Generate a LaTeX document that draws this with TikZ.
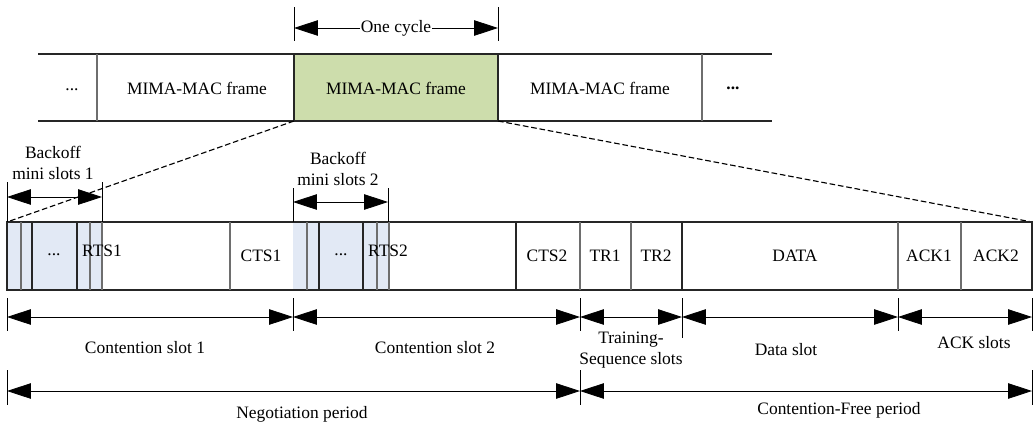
\documentclass[tikz,border=0pt]{standalone}
\usepackage{fontspec}
\setmainfont{Liberation Serif}
\usetikzlibrary{arrows.meta}

\definecolor{framegreen}{RGB}{205,221,172}
\definecolor{miniblue}{RGB}{226,233,245}
\definecolor{divgray}{RGB}{110,110,110}

\tikzset{
  rowline/.style={line width=0.9pt,black!85},
  divline/.style={line width=0.9pt,divgray},
  tickline/.style={line width=0.6pt},
  dimarrow/.style={line width=0.6pt,{Triangle[length=17pt,width=11pt]}-{Triangle[length=17pt,width=11pt]}},
  zoomline/.style={line width=0.8pt,dash pattern=on 4pt off 2pt},
  lbl/.style={inner sep=1pt,font=\fontsize{12.4}{14.5}\selectfont,align=center}
}

\begin{document}
\begin{tikzpicture}[x=0.025cm,y=-0.025cm]
\useasboundingbox (0,0) rectangle (1035,424);

% Upper row of frames
\fill [framegreen] (294,54) rectangle (498,121);
\draw [rowline] (38,54) -- (772,54);
\draw [rowline] (38,121) -- (772,121);
\foreach \xx in {97,702}
  \draw [divline] (\xx,54) -- (\xx,121);
\foreach \xx in {294,498}
  \draw [rowline] (\xx,54) -- (\xx,121);
\node [lbl] (dotsA) at (72,90) {...};
\node [lbl] (frameA) at (197,88) {MIMA-MAC frame};
\node [lbl] (frameB) at (396,88) {MIMA-MAC frame};
\node [lbl] (frameC) at (600,88) {MIMA-MAC frame};
\node [lbl,font=\fontsize{12.4}{14.5}\selectfont\bfseries] (dotsB) at (733,88) {...};

% One cycle
\coordinate (cycL) at (294,28);
\coordinate (cycR) at (498,28);
\draw [tickline] (294,7) -- (294,41);
\draw [tickline] (498,7) -- (498,41);
\draw [dimarrow] (cycL) -- (cycR);
\node [lbl,fill=white,inner sep=0.5pt] (cycle) at (396,28) {One cycle};

% Zoom lines
\coordinate (zoomAL) at (294,121);
\coordinate (zoomAR) at (498,121);
\coordinate (zoomBL) at (7,222);
\coordinate (zoomBR) at (1032,222);

% Lower row of slots
\fill [miniblue] (7,222) rectangle (102,290);
\fill [miniblue] (293,222) rectangle (389,290);
\draw [zoomline] (zoomAL) -- (zoomBL);
\draw [zoomline] (zoomAR) -- (zoomBR);
\draw [rowline] (7,222) rectangle (1032,290);
\foreach \xx in {21,32,77,90,102,230,307,319,363,377,389,516,580,631,682,898,961}
  \draw [divline] (\xx,222) -- (\xx,290);
\foreach \xx in {32,77,319,363,516,682}
  \draw [rowline] (\xx,222) -- (\xx,290);
\node [lbl] (dots1) at (54,255) {...};
\node [lbl] (rts1) at (102,251) {RTS1};
\node [lbl] (cts1) at (261,256) {CTS1};
\node [lbl] (dots2) at (341,255) {...};
\node [lbl] (rts2) at (388,251) {RTS2};
\node [lbl] (cts2) at (547,256) {CTS2};
\node [lbl] (tr1) at (605,256) {TR1};
\node [lbl] (tr2) at (656,256) {TR2};
\node [lbl] (data) at (795,256) {DATA};
\node [lbl] (ack1) at (929,256) {ACK1};
\node [lbl] (ack2) at (996,256) {ACK2};

% Backoff mini slots
\coordinate (bo1L) at (7,197);
\coordinate (bo1R) at (102,197);
\coordinate (bo2L) at (293,202);
\coordinate (bo2R) at (388,202);
\draw [tickline] (7,182) -- (7,222);
\draw [tickline] (102,182) -- (102,222);
\draw [tickline] (293,188) -- (293,222);
\draw [tickline] (388,188) -- (388,222);
\draw [dimarrow] (bo1L) -- (bo1R);
\draw [dimarrow] (bo2L) -- (bo2R);
\node [lbl] (bo1) at (53,163) {Backoff\\mini slots 1};
\node [lbl] (bo2) at (338,169) {Backoff\\mini slots 2};

% Slot dimensions
\foreach \xx in {7,293,580,682,898,1032}
  \draw [tickline] (\xx,298) -- (\xx,331);
\draw [tickline] (682,331) -- (682,338);
\coordinate (s0) at (7,317);
\coordinate (s1) at (293,317);
\coordinate (s2) at (580,317);
\coordinate (s3) at (682,317);
\coordinate (s4) at (898,317);
\coordinate (s5) at (1032,317);
\draw [dimarrow] (s0) -- (s1);
\draw [dimarrow] (s1) -- (s2);
\draw [dimarrow] (s2) -- (s3);
\draw [dimarrow] (s3) -- (s4);
\draw [dimarrow] (s4) -- (s5);
\node [lbl] (cs1) at (145,348) {Contention slot 1};
\node [lbl] (cs2) at (435,348) {Contention slot 2};
\node [lbl] (tss) at (631,350) {Training-\\Sequence slots};
\node [lbl] (ds) at (786,350) {Data slot};
\node [lbl] (acks) at (974,343) {ACK slots};

% Periods
\foreach \xx in {7,580,1032}
  \draw [tickline] (\xx,370) -- (\xx,405);
\coordinate (p0) at (7,391);
\coordinate (p1) at (580,391);
\coordinate (p2) at (1032,391);
\draw [dimarrow] (p0) -- (p1);
\draw [dimarrow] (p1) -- (p2);
\node [lbl] (neg) at (302,414) {Negotiation period};
\node [lbl] (cfp) at (839,410) {Contention-Free period};
\end{tikzpicture}
\end{document}
